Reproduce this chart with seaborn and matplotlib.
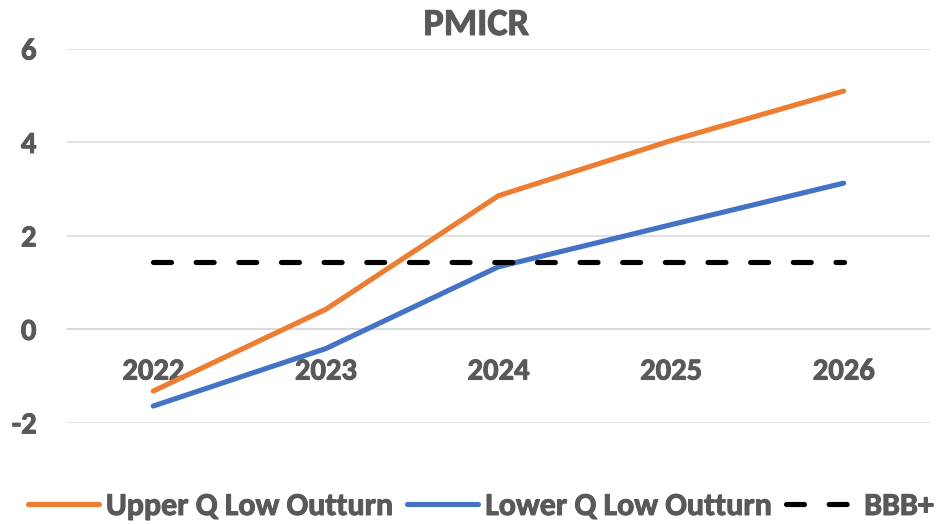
import matplotlib
matplotlib.use("Agg")
import matplotlib.pyplot as plt
import matplotlib.patheffects as pe
import seaborn as sns
import pandas as pd

# Chart data
years = ["2022", "2023", "2024", "2025", "2026"]
upper_q = [-1.32, 0.43, 2.86, 4.04, 5.10]
lower_q = [-1.64, -0.41, 1.34, 2.24, 3.13]
bbb_plus = [1.45, 1.45, 1.45, 1.45, 1.45]
y_ticks = [-2, 0, 2, 4, 6]

sns.set_theme(style="white")
plt.rcParams["font.family"] = ["Carlito", "DejaVu Sans"]
plt.rcParams["font.weight"] = "bold"

text_grey = "#595959"
grid_grey = "#D9D9D9"
# slight outline in the text colour to give the labels a heavier weight
heavy = [pe.withStroke(linewidth=0.7, foreground=text_grey)]

fig = plt.figure(figsize=(9.47, 5.24), dpi=100)
ax = fig.add_axes([0.0707, 0.193, 0.9113, 0.7135])

pos = list(range(len(years)))
df = pd.DataFrame({"pos": pos, "upper": upper_q, "lower": lower_q, "bbb": bbb_plus})

sns.lineplot(data=df, x="pos", y="upper", ax=ax, color="#ED7D31", lw=3.7,
             solid_capstyle="round", label="Upper Q Low Outturn")
sns.lineplot(data=df, x="pos", y="lower", ax=ax, color="#4472C4", lw=3.7,
             solid_capstyle="round", label="Lower Q Low Outturn")
sns.lineplot(data=df, x="pos", y="bbb", ax=ax, color="black", lw=3.7,
             linestyle=(0, (3.5, 4.8)), dash_capstyle="round", label="BBB+")

ax.set_xlim(-0.5, len(years) - 0.5)
ax.set_ylim(-2, 6)
ax.set_yticks(y_ticks)
ax.set_yticklabels([str(t) for t in y_ticks])
ax.set_xticks(pos)
ax.set_xticklabels(years)
ax.set_xlabel("")
ax.set_ylabel("")

ax.yaxis.grid(True, color=grid_grey, lw=1.1)
ax.xaxis.grid(False)
ax.set_axisbelow(True)

for side in ["top", "right", "left"]:
    ax.spines[side].set_visible(False)
ax.spines["bottom"].set_position(("data", 0))
ax.spines["bottom"].set_color(grid_grey)
ax.spines["bottom"].set_linewidth(1.1)
ax.spines["bottom"].set_zorder(0.5)

ax.tick_params(axis="y", length=0, pad=22, labelsize=22, labelcolor=text_grey)
ax.tick_params(axis="x", length=0, pad=21, labelsize=22, labelcolor=text_grey)
for lbl in ax.get_xticklabels() + ax.get_yticklabels():
    lbl.set_fontweight("bold")
    lbl.set_path_effects(heavy)

fig.text(0.503, 1 - 35 / 524, "PMICR", ha="center", va="baseline",
         fontsize=27.5, fontweight="bold", color=text_grey, path_effects=heavy)

leg = ax.legend(loc="center", bbox_to_anchor=(0.508, 1 - 506 / 524),
                bbox_transform=fig.transFigure, ncol=3, frameon=False,
                fontsize=23, handlelength=2.22, columnspacing=0.42,
                handletextpad=0.22, borderpad=0, borderaxespad=0)
for t in leg.get_texts():
    t.set_color(text_grey)
    t.set_fontweight("bold")
    t.set_path_effects(heavy)

fig.savefig("out.png", dpi=100)
